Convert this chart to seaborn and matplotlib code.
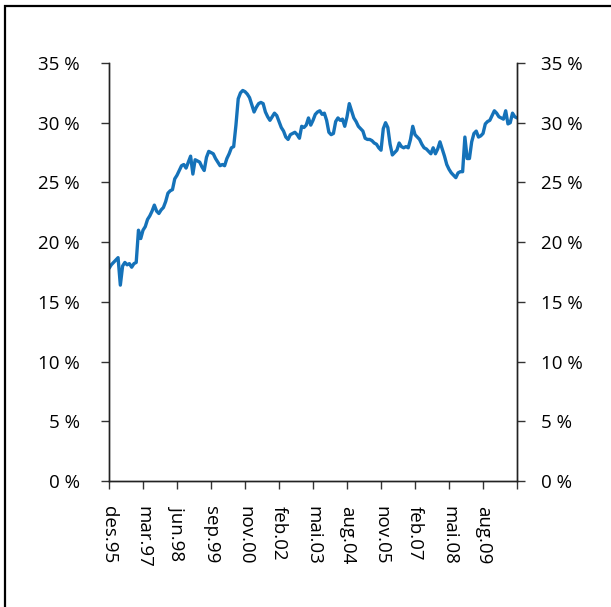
import matplotlib
matplotlib.use("Agg")
import matplotlib.pyplot as plt
from matplotlib.patches import Rectangle
import seaborn as sns
import pandas as pd

# monthly share, des.95 onwards
share = [
    17.8, 18.1, 18.3, 18.5, 18.7, 16.4, 18.0, 18.3, 18.1, 18.2,
    17.9, 18.2, 18.3, 21.0, 20.3, 21.0, 21.3, 21.9, 22.2, 22.6,
    23.1, 22.6, 22.4, 22.7, 22.9, 23.4, 24.1, 24.3, 24.4, 25.3,
    25.6, 26.0, 26.4, 26.5, 26.2, 26.7, 27.2, 25.7, 26.9, 26.8,
    26.7, 26.3, 26.0, 27.1, 27.6, 27.5, 27.4, 27.0, 26.7, 26.4,
    26.5, 26.4, 27.0, 27.4, 27.9, 28.0, 29.8, 32.0, 32.5, 32.7,
    32.6, 32.4, 32.1, 31.5, 30.9, 31.3, 31.6, 31.7, 31.6, 30.9,
    30.5, 30.2, 30.5, 30.8, 30.6, 30.1, 29.6, 29.3, 28.8, 28.6,
    29.0, 29.1, 29.2, 29.0, 28.7, 29.7, 29.6, 29.8, 30.4, 29.8,
    30.2, 30.7, 30.9, 31.0, 30.7, 30.8, 30.2, 29.2, 29.0, 29.1,
    30.1, 30.4, 30.2, 30.3, 29.7, 30.5, 31.6, 31.0, 30.4, 30.1,
    29.7, 29.5, 29.3, 28.7, 28.6, 28.6, 28.5, 28.3, 28.2, 27.9,
    27.7, 29.5, 30.0, 29.6, 28.2, 27.3, 27.5, 27.7, 28.3, 28.0,
    27.9, 28.0, 27.9, 28.6, 29.7, 29.0, 28.8, 28.6, 28.2, 27.9,
    27.8, 27.6, 27.4, 27.9, 27.4, 27.8, 28.4, 27.8, 27.2, 26.5,
    26.1, 25.8, 25.6, 25.4, 25.8, 25.9, 25.9, 28.8, 27.0, 27.0,
    28.4, 29.1, 29.3, 28.8, 28.9, 29.1, 29.9, 30.1, 30.2, 30.6,
    31.0, 30.8, 30.5, 30.4, 30.3, 31.0, 29.9, 30.0, 30.8, 30.5,
    30.4,
]
tick_labels = ["des.95", "mar.97", "jun.98", "sep.99", "nov.00", "feb.02",
               "mai.03", "aug.04", "nov.05", "feb.07", "mai.08", "aug.09", ""]
y_ticks = [0, 5, 10, 15, 20, 25, 30, 35]
y_labels = [f"{v} %" for v in y_ticks]

df = pd.DataFrame({"t": range(len(share)), "share": share})

sns.set_style("white")
plt.rcParams["font.family"] = ["Open Sans", "DejaVu Sans"]

fig = plt.figure(figsize=(6.11, 6.07), dpi=100)
ax = fig.add_axes([0.1784, 0.2076, 0.6678, 0.6886])

sns.lineplot(data=df, x="t", y="share", ax=ax, color="#1572b9", linewidth=2.4)

ax.set_xlim(0, 180)
ax.set_ylim(0, 35)
ax.set_xticks(range(0, 181, 15))
ax.set_xticklabels(tick_labels, rotation=-90, fontsize=13.5)
ax.set_yticks(y_ticks)
ax.set_yticklabels(y_labels, fontsize=13.5)
ax.set_xlabel("")
ax.set_ylabel("")

ax.tick_params(axis="y", left=True, direction="out", length=6, width=1,
               color="#333333", pad=15, labelcolor="black")
ax.tick_params(axis="x", bottom=True, direction="out", length=6,
               width=1, color="#333333", pad=12, labelcolor="black")

# right hand axis with the same scale
ax2 = ax.twinx()
ax2.set_ylim(0, 35)
ax2.set_yticks(y_ticks)
ax2.set_yticklabels(y_labels, fontsize=13.5)
ax2.tick_params(axis="y", right=True, direction="out", length=6, width=1,
                color="#333333", pad=11, labelcolor="black")

for a in (ax, ax2):
    a.spines["top"].set_visible(False)
    for side in ["left", "right", "bottom"]:
        a.spines[side].set_visible(True)
        a.spines[side].set_color("#222222")
        a.spines[side].set_linewidth(1.0)

# outer frame, cut by the right and bottom edges
fig.patches.append(Rectangle((5 / 611, -0.05), 1.0, 0.99 + 0.05,
                             transform=fig.transFigure, fill=False,
                             edgecolor="black", linewidth=1.6))

fig.savefig("out.png", dpi=100)
